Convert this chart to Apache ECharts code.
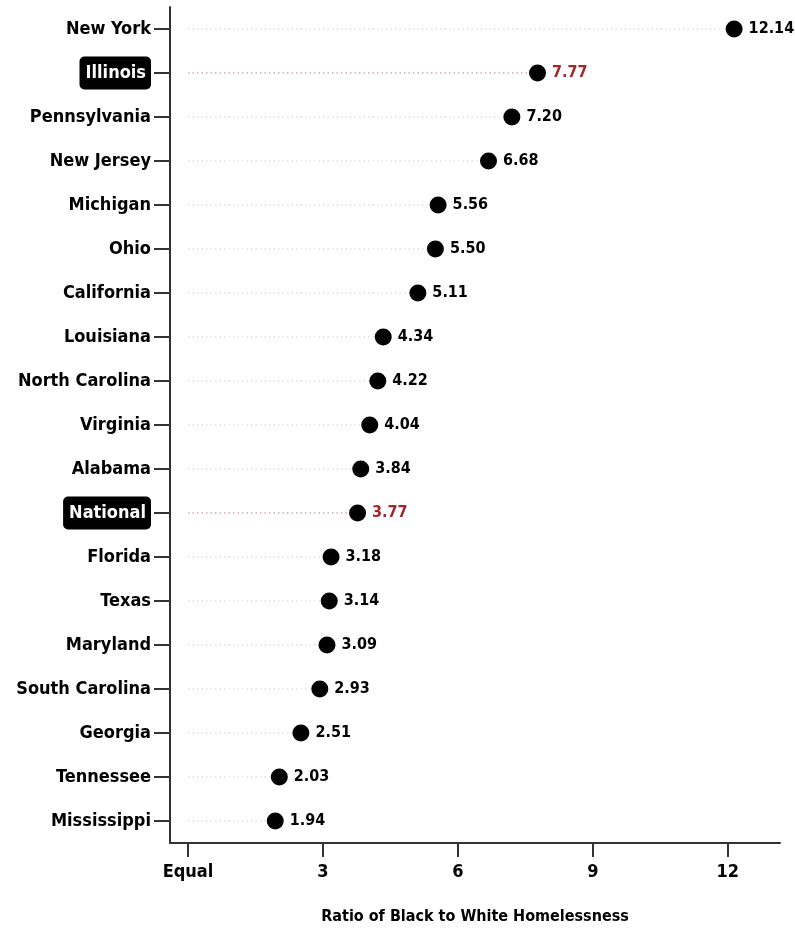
<!DOCTYPE html>
<html><head><meta charset="utf-8">
<script src="https://cdn.jsdelivr.net/npm/echarts@6/dist/echarts.min.js"></script>
<style>html,body{margin:0;padding:0;background:#fff}#c{width:795px;height:939px}</style>
</head><body><div id="c"></div>
<script>
const states = ["New York","Illinois","Pennsylvania","New Jersey","Michigan","Ohio","California","Louisiana","North Carolina","Virginia","Alabama","National","Florida","Texas","Maryland","South Carolina","Georgia","Tennessee","Mississippi"];
const ratios = [12.14,7.77,7.20,6.68,5.56,5.50,5.11,4.34,4.22,4.04,3.84,3.77,3.18,3.14,3.09,2.93,2.51,2.03,1.94];
const highlighted = ["Illinois","National"];
const xTicks = [0,3,6,9,12];
const xTickLabels = ["Equal","3","6","9","12"];
const axisTitle = "Ratio of Black to White Homelessness";

const FONT = '"DejaVu Sans Condensed","DejaVu Sans",sans-serif';
const RED = '#a3262b';

const chart = echarts.init(document.getElementById('c'));
chart.setOption({
  animation: false,
  grid: {left: 170, right: 15, top: 7, bottom: 96},
  xAxis: {
    type: 'value', min: -0.4, max: 13.16,
    splitLine: {show: false},
    axisLine: {show: true, onZero: false, lineStyle: {color: '#333', width: 2}},
    axisTick: {show: true, length: 14, customValues: xTicks, lineStyle: {color: '#333', width: 2}},
    axisLabel: {customValues: xTicks, margin: 20, color: '#000', fontFamily: FONT, fontWeight: 'bold', fontSize: 18,
      formatter: v => { const i = xTicks.indexOf(v); return i >= 0 ? xTickLabels[i] : ''; }},
    name: axisTitle, nameLocation: 'middle', nameGap: 66,
    nameTextStyle: {color: '#000', fontFamily: FONT, fontWeight: 'bold', fontSize: 16}
  },
  yAxis: {
    type: 'category', data: states, inverse: true,
    axisLine: {show: true, onZero: false, lineStyle: {color: '#333', width: 2}},
    axisTick: {show: true, length: 16, alignWithLabel: true, lineStyle: {color: '#333', width: 2}},
    axisLabel: {margin: 19, color: '#000', fontFamily: FONT, fontWeight: 'bold', fontSize: 18,
      formatter: v => highlighted.includes(v) ? '{hl|' + v + '}' : v,
      rich: {hl: {backgroundColor: '#000', color: '#fff', borderRadius: 5, padding: [8, 5, 7, 6],
        fontFamily: FONT, fontWeight: 'bold', fontSize: 18}}}
  },
  series: [
    {
      type: 'custom',
      data: ratios.map((v, i) => [v, i]),
      renderItem: (params, api) => {
        const idx = api.value(1);
        const p0 = api.coord([0, idx]);
        const p1 = api.coord([api.value(0), idx]);
        const hl = highlighted.includes(states[idx]);
        return {type: 'line', shape: {x1: p0[0], y1: p0[1], x2: p1[0], y2: p1[1]},
          style: {stroke: hl ? '#c77b7e' : '#d0d0d0', lineWidth: 1.2, lineDash: [1.5, 3]}};
      },
      z: 1
    },
    {
      type: 'scatter', symbolSize: 17, z: 3,
      itemStyle: {color: '#000', opacity: 1},
      data: ratios.map((v, i) => ({value: [v, i],
        label: {color: highlighted.includes(states[i]) ? RED : '#000'}})),
      label: {show: true, position: 'right', distance: 6, fontFamily: FONT, fontWeight: 'bold', fontSize: 16,
        formatter: p => p.value[0].toFixed(2)}
    }
  ]
});
</script></body></html>
